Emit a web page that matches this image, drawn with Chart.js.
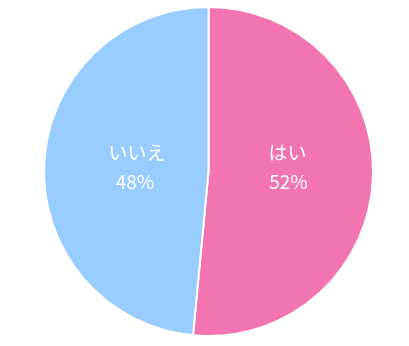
<!DOCTYPE html>
<html><head><meta charset="utf-8">
<script src="https://cdn.jsdelivr.net/npm/chart.js@4"></script>
<style>html,body{margin:0;padding:0;background:#fff}#wrap{width:409px;height:346px}</style>
</head><body><div id="wrap"><canvas id="c" width="409" height="346"></canvas></div>
<script>
const categories = ["はい", "いいえ"];
const values = [51.5, 48.5];
const percentLabels = ["52%", "48%"];
const colors = ["#F274B1", "#99CCFF"];

const labelPlugin = {
  id: 'inlabels',
  afterDatasetsDraw(chart) {
    const ctx = chart.ctx;
    const meta = chart.getDatasetMeta(0);
    const xFrac = [0.48, 0.435];
    ctx.save();
    ctx.fillStyle = '#ffffff';
    ctx.textAlign = 'center';
    ctx.textBaseline = 'middle';
    ctx.font = '19px "Noto Sans CJK JP", sans-serif';
    meta.data.forEach((arc, i) => {
      const mid = (arc.startAngle + arc.endAngle) / 2;
      const dir = Math.cos(mid) >= 0 ? 1 : -1;
      const x = arc.x + dir * xFrac[i] * arc.outerRadius;
      ctx.fillText(categories[i], x, arc.y - 19);
      ctx.fillText(percentLabels[i], x + (i === 1 ? -2 : 1), arc.y + 10);
    });
    ctx.restore();
  }
};

new Chart(document.getElementById('c'), {
  type: 'pie',
  data: { labels: categories, datasets: [{ data: values, backgroundColor: colors, borderColor: '#ffffff', borderWidth: 2 }] },
  options: {
    responsive: false, animation: false,
    layout: { padding: { top: 6, bottom: 9, left: 8, right: 0 } },
    plugins: { legend: { display: false }, tooltip: { enabled: false } }
  },
  plugins: [labelPlugin]
});
</script></body></html>
